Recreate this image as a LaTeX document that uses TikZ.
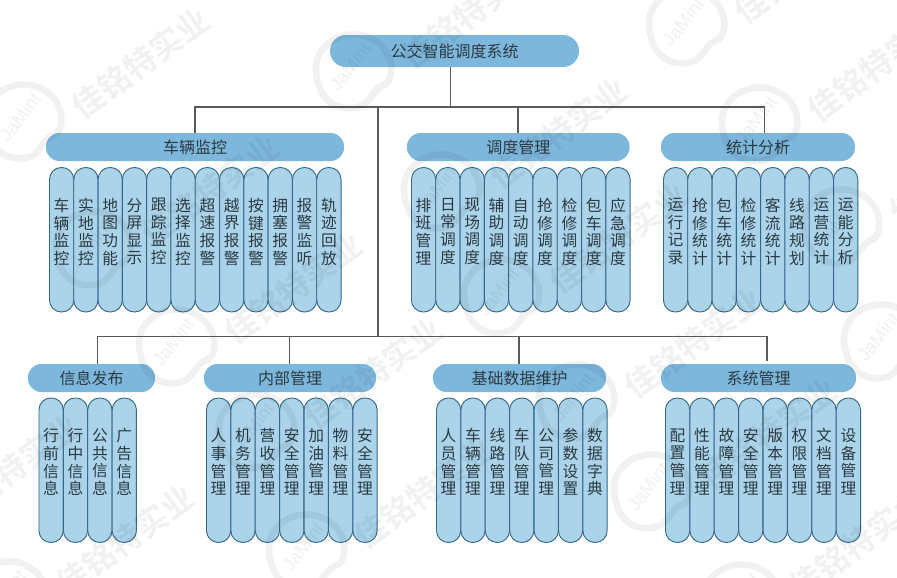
\documentclass[tikz,border=0pt]{standalone}
\usepackage{fontspec}
\setmainfont{Noto Sans CJK SC}
\newfontfamily\wmfont{Noto Sans CJK SC Bold}
\newfontfamily\latinwm{Liberation Sans}
\definecolor{headfill}{HTML}{7DB7DC}
\definecolor{leaffill}{HTML}{ABD3EA}
\definecolor{leafline}{HTML}{35698A}
\definecolor{wire}{HTML}{5A5A5A}
\definecolor{ink}{HTML}{2B3A42}
\def\chr#1{\ifx#1\relax\else\hbox{#1}\expandafter\chr\fi}
\newcommand\vertxt[1]{\vbox to 108.4pt{\hsize=11.8pt\baselineskip=13.2pt\vskip 23pt\chr#1\relax\vfill}}
\tikzset{
  rootbox/.style={fill=headfill,rounded corners=12pt,minimum width=186.75pt,minimum height=24pt,inner sep=0pt,text=ink,font=\fontsize{12pt}{14pt}\selectfont},
  headbox/.style={fill=headfill,rounded corners=10pt,minimum height=21pt,inner sep=0pt,text=ink,font=\fontsize{12pt}{14pt}\selectfont},
  leafbox/.style={draw=leafline,fill=leaffill,line width=0.7pt,rounded corners=8.9pt,minimum width=18.2pt,inner sep=0pt,anchor=north west,text=ink,font=\fontsize{11.8pt}{13.2pt}\selectfont},
  wirepath/.style={draw=wire,line width=1pt},
  wmtext/.style={text=black,opacity=.055,rotate=36,font=\wmfont\fontsize{24pt}{27pt}\selectfont,inner sep=0pt},
  wmring/.style={draw=black,draw opacity=.055,line width=5pt},
  wmname/.style={text=black,opacity=.055,font=\latinwm\fontsize{14pt}{16pt}\selectfont,inner sep=0pt,rotate=52}
}
\newcommand\leafrow[5]{% name, x0, ytop, pitch, list
  \foreach \t [count=\i from 0] in {#5}{
    \node[leafbox] (#1-\i) at ({#2+\i*#4},#3) {\expandafter\vertxt\expandafter{\t}};
  }
}
\newcommand\headnode[5]{% name, x0, x1, y0, text
  \node[headbox,minimum width={(#3-#2)*0.75pt}] (#1) at ({(#2+#3)/2},#4+14) {#5};
}
\newcommand\wmark[2]{%
  \draw[wmring] (#1-34,#2+12) .. controls (#1-46,#2-26) and (#1-4,#2-46) .. (#1+22,#2-30)
     .. controls (#1+40,#2-20) and (#1+44,#2+4) .. (#1+34,#2+14)
     .. controls (#1+16,#2+20) and (#1+22,#2+36) .. (#1,#2+38)
     .. controls (#1-16,#2+40) and (#1-30,#2+30) .. (#1-34,#2+12);
  \node[wmname] (wmn#1x#2) at (#1-2,#2-3) {JaMint};
  \node[wmtext] (wmt#1x#2) at (#1+118,#2-57) {佳铭特实业};
}
\begin{document}
\begin{tikzpicture}[x=0.75pt,y=-0.75pt]
\useasboundingbox (0,0) rectangle (897,578);
% root
\node[rootbox] (root) at (454.5,51) {公交智能调度系统};
% group headers
\headnode{hA}{46}{344}{133}{车辆监控}
\headnode{hB}{407}{629.5}{133}{调度管理}
\headnode{hC}{661}{855}{133}{统计分析}
\headnode{hD}{28}{155}{364}{信息发布}
\headnode{hE}{204}{376}{364}{内部管理}
\headnode{hF}{433}{606}{364}{基础数据维护}
\headnode{hG}{661}{856}{364}{系统管理}
% leaves
\leafrow{a}{49}{167}{24.3}{车辆监控,实地监控,地图功能,分屏显示,跟踪监控,选择监控,超速报警,越界报警,按键报警,拥塞报警,报警监听,轨迹回放}
\leafrow{b}{411}{167}{24.3}{排班管理,日常调度,现场调度,辅助调度,自动调度,抢修调度,检修调度,包车调度,应急调度}
\leafrow{c}{663}{167}{24.3}{运行记录,抢修统计,包车统计,检修统计,客流统计,线路规划,运营统计,运能分析}
\leafrow{d}{38.5}{397.5}{24.4}{行前信息,行中信息,公共信息,广告信息}
\leafrow{e}{206}{397.5}{24.4}{人事管理,机务管理,营收管理,安全管理,加油管理,物料管理,安全管理}
\leafrow{f}{436}{397.5}{24.4}{人员管理,车辆管理,线路管理,车队管理,公司管理,参数设置,数据字典}
\leafrow{g}{665}{397.5}{24.4}{配置管理,性能管理,故障管理,安全管理,版本管理,权限管理,文档管理,设备管理}
% junctions
\coordinate (rootfoot) at (450.5,67);
\coordinate (busT) at (450.5,107);
\coordinate (stem) at (378,107);
\coordinate (stemfoot) at (378,336.5);
\coordinate (tA) at (195,107);
\coordinate (tB) at (518,107);
\coordinate (tC) at (764.5,107);
\coordinate (tD) at (97.5,336.5);
\coordinate (tE) at (289.5,336.5);
\coordinate (tF) at (519,336.5);
\coordinate (tG) at (767,336.5);
\coordinate (endG) at (767,361);
% connectors
\draw[wirepath] (rootfoot) -- (busT);
\draw[wirepath] (hA.north -| tA) -- (tA) -- (tC) -- (hC.north -| tC);
\draw[wirepath] (tB) -- (hB.north -| tB);
\draw[wirepath] (stem) -- (stemfoot);
\draw[wirepath] (hD.north -| tD) -- (tD) -- (tG) -- (endG);
\draw[wirepath] (tE) -- (hE.north -| tE);
\draw[wirepath] (tF) -- (hF.north -| tF);
% watermark
\wmark{22}{120}
\wmark{352}{70}
\wmark{685}{25}
\wmark{758}{123}
\wmark{440}{190}
\wmark{500}{295}
\wmark{92}{247}
\wmark{840}{225}
\wmark{175}{345}
\wmark{255}{430}
\wmark{305}{550}
\wmark{575}{400}
\wmark{650}{490}
\wmark{880}{340}
\wmark{740}{600}
\wmark{7}{597}
\wmark{-108}{527}
\end{tikzpicture}
\end{document}
